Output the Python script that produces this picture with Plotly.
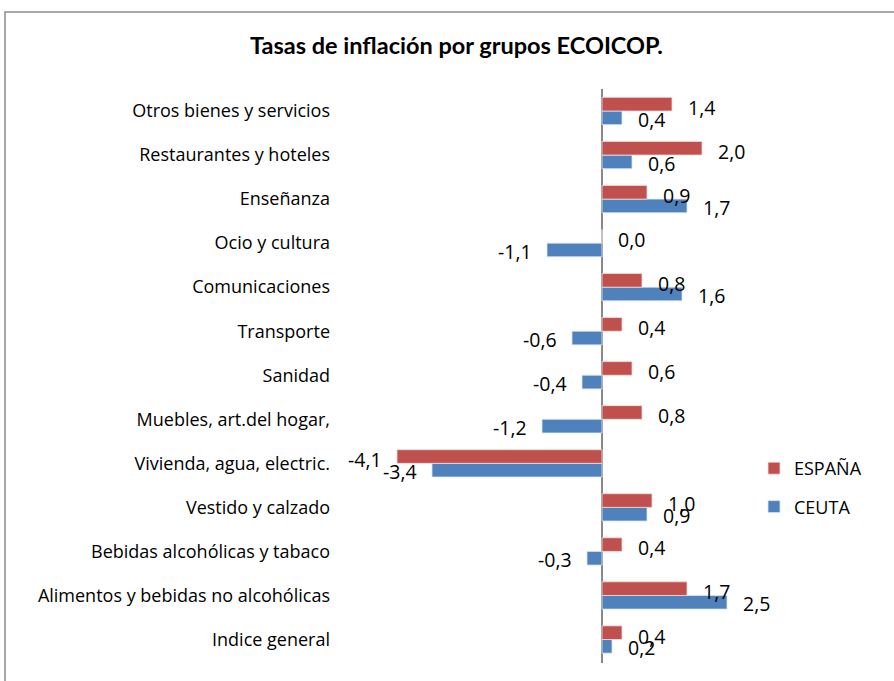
import plotly.graph_objects as go

categories = [
    "Indice general",
    "Alimentos y bebidas no alcohólicas",
    "Bebidas alcohólicas y tabaco",
    "Vestido y calzado",
    "Vivienda, agua, electric.",
    "Muebles, art.del hogar,",
    "Sanidad",
    "Transporte",
    "Comunicaciones",
    "Ocio y cultura",
    "Enseñanza",
    "Restaurantes y hoteles",
    "Otros bienes y servicios",
]
espana = [0.4, 1.7, 0.4, 1.0, -4.1, 0.8, 0.6, 0.4, 0.8, 0.0, 0.9, 2.0, 1.4]
ceuta = [0.2, 2.5, -0.3, 0.9, -3.4, -1.2, -0.4, -0.6, 1.6, -1.1, 1.7, 0.6, 0.4]

RED = "#C0504D"
BLUE = "#4F81BD"
FONT = "Open Sans"

W, H = 894, 681
L, R_EDGE, T, B_EDGE = 340, 740, 89, 663   # plot area in page pixels

fig = go.Figure()
fig.add_trace(go.Bar(y=categories, x=ceuta, orientation="h", name="CEUTA",
                     marker=dict(color=BLUE, line=dict(color="#DCE6F2", width=0.8)),
                     legendgroup="c", legendrank=2))
fig.add_trace(go.Bar(y=categories, x=espana, orientation="h", name="ESPAÑA",
                     marker=dict(color=RED, line=dict(color="#F2DCDB", width=0.8)),
                     legendgroup="e", legendrank=1))

def fmt(v):
    return f"{v:.1f}".replace(".", ",")

annotations = []
for vals, ysh in ((espana, 3.5), (ceuta, -8)):
    for cat, v in zip(categories, vals):
        pos = v >= 0
        annotations.append(dict(
            x=v, y=cat, xref="x", yref="y", text=fmt(v), showarrow=False,
            xanchor="left" if pos else "right", xshift=14 if pos else -13,
            yshift=ysh, font=dict(family=FONT, size=19.5, color="#000000")))

pw = R_EDGE - L
ph = B_EDGE - T

def px_x(x):
    return (x - L) / pw

def px_y(y):
    return (B_EDGE - y) / ph

fig.update_layout(
    width=W, height=H,
    paper_bgcolor="white", plot_bgcolor="white",
    margin=dict(l=L, r=W - R_EDGE, t=T, b=H - B_EDGE),
    barmode="group", bargap=0.38, bargroupgap=0,
    title=dict(text="<b>Tasas de inflación por grupos ECOICOP.</b>",
               x=456.5 / W, xanchor="center", y=1 - 46 / H, yanchor="middle",
               yref="container", font=dict(family="Lato", size=23.5, color="#000000")),
    xaxis=dict(range=[(L - 602) / 50.0, (R_EDGE - 602) / 50.0],
               showgrid=False, showticklabels=False,
               zeroline=True, zerolinecolor="#898989", zerolinewidth=1.5,
               showline=False, ticks=""),
    yaxis=dict(showgrid=False, ticks="", ticklabelstandoff=9,
               tickfont=dict(family=FONT, size=18, color="#000000")),
    legend=dict(x=px_x(754), xanchor="left", y=px_y(450), yanchor="top",
                traceorder="grouped", tracegroupgap=12,
                font=dict(family=FONT, size=18, color="#000000"),
                bgcolor="rgba(0,0,0,0)"),
    annotations=annotations,
    shapes=[dict(type="rect", xref="paper", yref="paper",
                 x0=px_x(5), x1=px_x(905),
                 y0=px_y(700), y1=px_y(12),
                 line=dict(color="#8C8C8C", width=1.5), layer="below")],
)

fig.write_html("out.html", config={"displayModeBar": False},
               post_script="document.body.style.margin='0px';document.body.style.overflow='hidden';")
